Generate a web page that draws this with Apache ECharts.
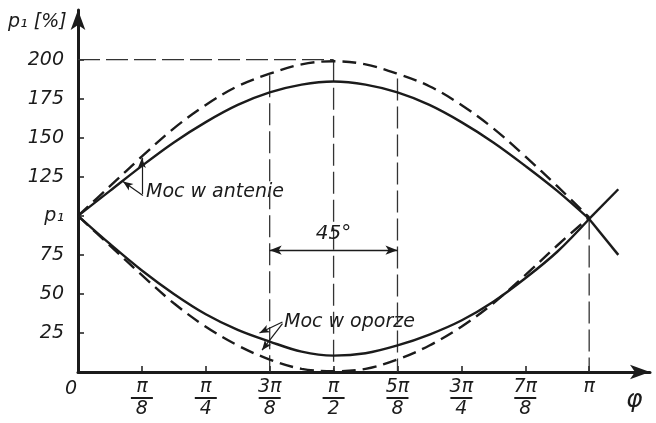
<!DOCTYPE html>
<html><head><meta charset="utf-8">
<script src="https://cdn.jsdelivr.net/npm/echarts@6/dist/echarts.min.js"></script>
<style>html,body{margin:0;padding:0;background:#fff}#c{width:656px;height:423px}</style>
</head><body><div id="c"></div>
<script>
// phase angle in units of π
const phi = [0, 0.0625, 0.125, 0.1875, 0.25, 0.3125, 0.375, 0.4375, 0.5, 0.5625, 0.625, 0.6875, 0.75, 0.8125, 0.875, 0.9375, 1];
const upperDashed = [100, 119, 138, 156, 171, 183, 191, 197, 199, 197, 191, 183, 171, 156, 138, 119, 99];
const upperSolid  = [100, 116, 132, 147, 160, 171, 179, 184, 186, 184, 179, 171, 160, 147, 132, 116, 98];
const lowerSolid  = [100, 82, 65, 50, 37, 27, 19.5, 13, 10.5, 12, 17, 24, 33, 45, 60, 77, 98];
const lowerDashed = [100, 81, 62, 44, 29, 17, 8, 2, 0.5, 2, 8, 17, 29, 44, 62, 81, 99];
// continuation of the solid curves past π
const extPhi = [1, 1.057];
const upperSolidExt = [98, 75];
const lowerSolidExt = [98, 117];

// construction lines (data space)
const guideH200 = [[0, 200], [0.5, 200]];
const guide3pi8 = [[0.375, 190], [0.375, 0]];
const guidePi2  = [[0.5, 200], [0.5, 0]];
const guide5pi8 = [[0.625, 188], [0.625, 0]];
const guidePi   = [[1, 99], [1, 0]];
const dim45 = [[0.375, 78], [0.625, 78]];

const yTicks = [25, 50, 75, 100, 125, 150, 175, 200];
const yTickLabels = ['25', '50', '75', 'p₁', '125', '150', '175', '200'];
const xTicks = [0, 0.125, 0.25, 0.375, 0.5, 0.625, 0.75, 0.875, 1];
const xNum = ['0', 'π', 'π', '3π', 'π', '5π', '3π', '7π', 'π'];
const xDen = ['', '8', '4', '8', '2', '8', '4', '8', ''];

const INK = '#1b1b1b';
const FONT = 'DejaVu Sans';
const pair = (xs, ys) => xs.map((x, i) => [x, ys[i]]);

const chart = echarts.init(document.getElementById('c'), null, {renderer: 'canvas'});

const curve = (name, xs, ys, dashed) => ({
  name, type: 'line', data: pair(xs, ys), smooth: 0.35, showSymbol: false, silent: true,
  lineStyle: {color: INK, width: 2.4, type: dashed ? [14, 7] : 'solid'}, z: 3
});
const guide = (name, d) => ({
  name, type: 'line', data: d, showSymbol: false, silent: true,
  lineStyle: {color: '#333', width: 1.3, type: [22, 6]}, z: 2
});

chart.setOption({
  animation: false,
  backgroundColor: '#fff',
  grid: {left: 78, right: 6, top: 10, bottom: 51},
  xAxis: {
    type: 'value', min: 0, max: 1.119,
    axisLine: {show: true, onZero: true, lineStyle: {color: INK, width: 3}, symbol: ['none', 'arrow'], symbolSize: [11, 20]},
    axisTick: {show: true, inside: true, length: 6, lineStyle: {color: INK, width: 1.5}, customValues: xTicks.slice(1)},
    splitLine: {show: false},
    axisLabel: {
      customValues: xTicks, margin: 6, color: INK,
      formatter: v => {
        const i = xTicks.findIndex(t => Math.abs(t - v) < 1e-6);
        if (i < 0) return '';
        if (i === 0) return '{o|' + xNum[0] + '}';
        return xDen[i] ? '{n|' + xNum[i] + '}\n{l| }\n{d|' + xDen[i] + '}' : '{n|' + xNum[i] + '}';
      },
      rich: {
        n: {fontFamily: FONT, fontStyle: 'italic', fontSize: 19, lineHeight: 18, color: INK, align: 'center'},
        l: {width: 22, height: 2, lineHeight: 4, backgroundColor: INK, align: 'center'},
        d: {fontFamily: FONT, fontStyle: 'italic', fontSize: 19, lineHeight: 18, color: INK, align: 'center'},
        o: {fontFamily: FONT, fontStyle: 'italic', fontSize: 19, lineHeight: 22, color: INK, padding: [0, 14, 0, 0]}
      }
    }
  },
  yAxis: {
    type: 'value', min: 0, max: 231.8,
    axisLine: {show: true, lineStyle: {color: INK, width: 3}, symbol: ['none', 'arrow'], symbolSize: [11, 20]},
    axisTick: {show: true, inside: true, length: 6, lineStyle: {color: INK, width: 1.5}, customValues: yTicks},
    splitLine: {show: false},
    axisLabel: {
      customValues: yTicks, margin: 14, color: INK,
      fontFamily: FONT, fontStyle: 'italic', fontSize: 19,
      formatter: v => { const i = yTicks.indexOf(v); return i < 0 ? '' : yTickLabels[i]; }
    }
  },
  series: [
    curve('upperDashed', phi, upperDashed, true),
    curve('upperSolid', phi, upperSolid, false),
    curve('lowerSolid', phi, lowerSolid, false),
    curve('lowerDashed', phi, lowerDashed, true),
    curve('upperSolidExt', extPhi, upperSolidExt, false),
    curve('lowerSolidExt', extPhi, lowerSolidExt, false),
    guide('g200', guideH200),
    guide('g3pi8', guide3pi8),
    guide('gpi2', guidePi2),
    guide('g5pi8', guide5pi8),
    guide('gpi', guidePi),
    {
      name: 'dim45', type: 'line', data: [], silent: true,
      markLine: {
        silent: true, symbol: ['arrow', 'arrow'], symbolSize: [7, 12],
        lineStyle: {color: INK, width: 1.3, type: 'solid'},
        label: {show: true, position: 'insideMiddleTop', distance: 6, formatter: '45°',
          fontFamily: FONT, fontStyle: 'italic', fontSize: 20, color: INK},
        data: [[{coord: dim45[0]}, {coord: dim45[1]}]]
      }
    },
    {
      name: 'leaders', type: 'line', data: [], silent: true,
      markLine: {
        silent: true, symbol: ['none', 'arrow'], symbolSize: [6, 10],
        lineStyle: {color: INK, width: 1.2, type: 'solid'},
        label: {show: false},
        data: [
          [{coord: [0.125, 114]}, {coord: [0.125, 137]}],
          [{coord: [0.127, 113]}, {coord: [0.088, 122]}],
          [{coord: [0.40, 32]}, {coord: [0.355, 25]}],
          [{coord: [0.40, 31]}, {coord: [0.36, 14]}]
        ]
      }
    }
  ],
  graphic: [
    {type: 'text', left: 8, top: 13, style: {text: 'p₁ [%]', font: 'italic 19px "DejaVu Sans"', fill: INK}},
    {type: 'text', left: 626, top: 388, style: {text: 'φ', font: 'italic 25px "DejaVu Sans"', fill: INK}},
    {type: 'text', left: 146, top: 183, style: {text: 'Moc w antenie', font: 'italic 19px "DejaVu Sans"', fill: INK}},
    {type: 'text', left: 284, top: 313, style: {text: 'Moc w oporze', font: 'italic 19px "DejaVu Sans"', fill: INK}}
  ]
});
</script>
</body></html>
